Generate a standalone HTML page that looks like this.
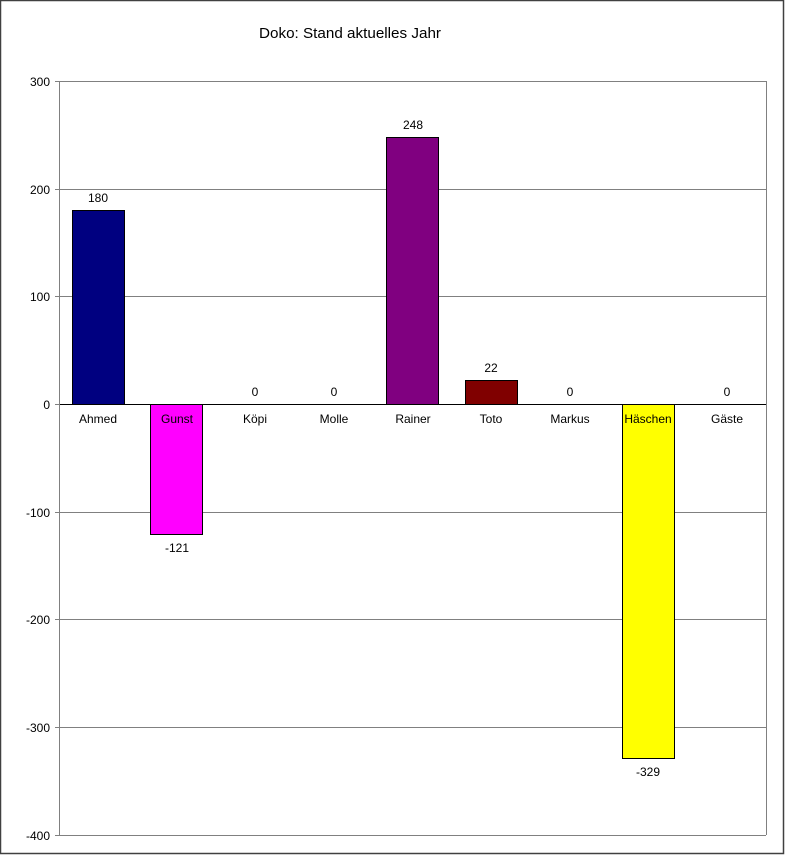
<!DOCTYPE html>
<html><head><meta charset="utf-8"><style>
html,body{margin:0;padding:0;background:#fff}
svg{display:block}
text{font-family:"Liberation Sans",Arial,sans-serif;font-size:12px;fill:#000}
</style></head><body>
<svg width="785" height="855" viewBox="0 0 785 855">
<rect x="0.5" y="0.5" width="783" height="853" fill="#fff" stroke="#404040" stroke-width="1.5"/>
<text x="350" y="38" text-anchor="middle" style="font-size:15px" textLength="182" lengthAdjust="spacingAndGlyphs">Doko: Stand aktuelles Jahr</text>
<g stroke="#808080" stroke-width="1">
<line x1="59" y1="81.5" x2="766" y2="81.5"/>
<line x1="59" y1="189.5" x2="766" y2="189.5"/>
<line x1="59" y1="296.5" x2="766" y2="296.5"/>
<line x1="59" y1="512.5" x2="766" y2="512.5"/>
<line x1="59" y1="619.5" x2="766" y2="619.5"/>
<line x1="59" y1="727.5" x2="766" y2="727.5"/>
<line x1="59" y1="835.5" x2="766" y2="835.5"/>
<line x1="766.5" y1="81" x2="766.5" y2="835"/>
<line x1="55" y1="81.5" x2="59" y2="81.5"/>
<line x1="55" y1="189.5" x2="59" y2="189.5"/>
<line x1="55" y1="296.5" x2="59" y2="296.5"/>
<line x1="55" y1="404.5" x2="59" y2="404.5"/>
<line x1="55" y1="512.5" x2="59" y2="512.5"/>
<line x1="55" y1="619.5" x2="59" y2="619.5"/>
<line x1="55" y1="727.5" x2="59" y2="727.5"/>
<line x1="55" y1="835.5" x2="59" y2="835.5"/>
</g>
<g stroke="#000" stroke-width="1">
<rect x="72.5" y="210.5" width="52" height="194" fill="#000080"/>
<rect x="150.5" y="404.5" width="52" height="130" fill="#ff00ff"/>
<rect x="386.5" y="137.5" width="52" height="267" fill="#800080"/>
<rect x="465.5" y="380.5" width="52" height="24" fill="#800000"/>
<rect x="622.5" y="404.5" width="52" height="354" fill="#ffff00"/>
</g>
<line x1="59" y1="404.5" x2="766" y2="404.5" stroke="#000"/>
<line x1="59.5" y1="81" x2="59.5" y2="835" stroke="#808080"/>
<g text-anchor="end">
<text x="50" y="86">300</text><text x="50" y="194">200</text><text x="50" y="301">100</text>
<text x="50" y="409">0</text><text x="50" y="517">-100</text><text x="50" y="624">-200</text>
<text x="50" y="732">-300</text><text x="50" y="840">-400</text>
</g>
<g text-anchor="middle">
<text x="98" y="423">Ahmed</text><text x="177" y="423">Gunst</text><text x="255" y="423">Köpi</text>
<text x="334" y="423">Molle</text><text x="413" y="423">Rainer</text><text x="491" y="423">Toto</text>
<text x="570" y="423">Markus</text><text x="648" y="423">Häschen</text><text x="727" y="423">Gäste</text>
<text x="98" y="202">180</text><text x="177" y="552">-121</text><text x="255" y="396">0</text>
<text x="334" y="396">0</text><text x="413" y="129">248</text><text x="491" y="372">22</text>
<text x="570" y="396">0</text><text x="648" y="776">-329</text><text x="727" y="396">0</text>
</g>
</svg>
</body></html>
